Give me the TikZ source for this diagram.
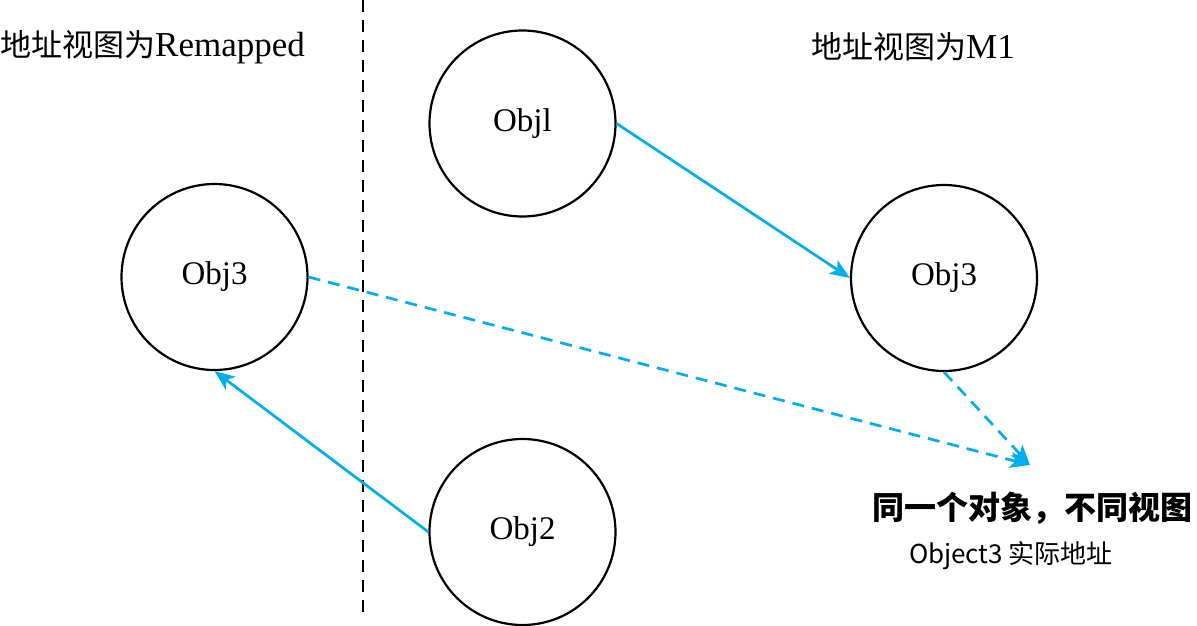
\documentclass[tikz,border=0pt]{standalone}
\usepackage{fontspec}
\setmainfont{Liberation Serif}
\newfontfamily\cjk{Noto Sans CJK SC}
\usetikzlibrary{arrows.meta}
\definecolor{arrowblue}{RGB}{0,174,239}
\tikzset{
  objcircle/.style={circle,draw=black,line width=2.2pt,minimum size=186pt,inner sep=0pt,
    font=\fontsize{33}{33}\selectfont},
  blueline/.style={draw=arrowblue,line width=2.7pt,-{Stealth[length=20pt,width=16pt,inset=5pt]}},
  bluedash/.style={blueline,dash pattern=on 12pt off 8pt},
  divider/.style={draw=black,line width=2pt,dash pattern=on 12pt off 8pt},
  titletext/.style={inner sep=0pt,font=\fontsize{35}{35}\selectfont},
}
\begin{document}
\begin{tikzpicture}[x=1pt,y=-1pt]
\useasboundingbox (0,0) rectangle (1197,626);
\coordinate (dtop) at (363,0);
\coordinate (dbot) at (363,612);
\draw[divider] (dtop) -- (dbot);
\node[titletext,anchor=west] (tl) at (0,47) {{\cjk\fontsize{31}{31}\selectfont 地址视图为}Remapped};
\node[titletext] (tr) at (913,47) {{\cjk\fontsize{31}{31}\selectfont 地址视图为}M1};
\node[objcircle] (o1) at (522.5,123.5) {Objl};
\node[objcircle] (o3l) at (214.5,277) {Obj3};
\node[objcircle] (o3r) at (944,278) {Obj3};
\node[objcircle] (o2) at (522.5,532) {Obj2};
\coordinate (tip) at (1030,465);
\draw[blueline] (o1.east) -- (o3r.west);
\draw[blueline] (o2.west) -- (o3l.south);
\draw[bluedash] (o3l.east) -- (tip);
\draw[bluedash] (o3r.south) -- (tip);
\node[inner sep=0pt,font=\cjk\bfseries\fontsize{32}{32}\selectfont] (cap1) at (1032,508) {同一个对象，不同视图};
\node[inner sep=0pt,font=\cjk\fontsize{26}{26}\selectfont] (cap2) at (1011,556) {Object3 实际地址};
\end{tikzpicture}
\end{document}
